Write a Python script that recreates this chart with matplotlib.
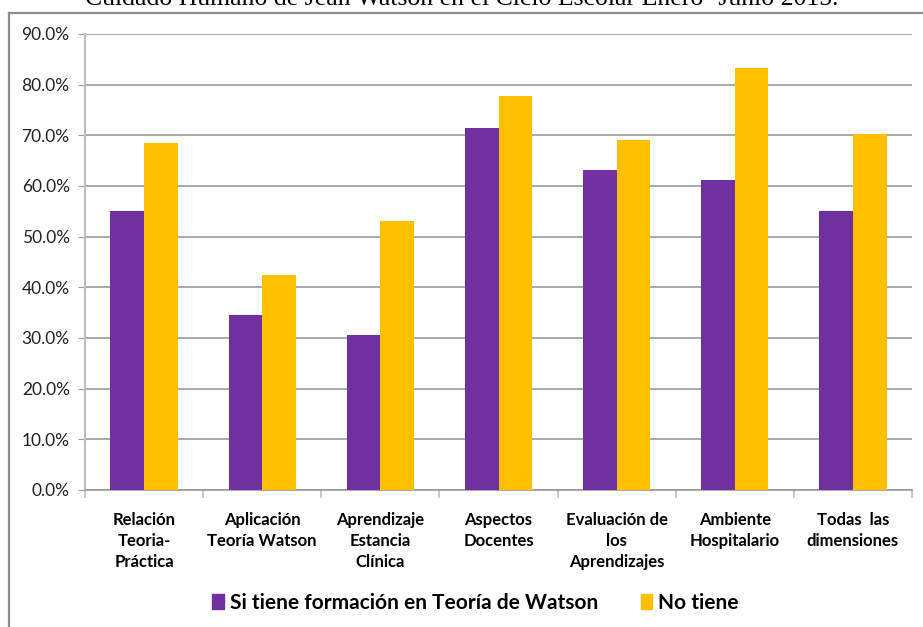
import matplotlib
matplotlib.use("Agg")
import matplotlib.pyplot as plt
from matplotlib.lines import Line2D
from matplotlib.patches import Patch
import numpy as np

categories = ["Relación\nTeoria-\nPráctica", "Aplicación\nTeoría Watson",
              "Aprendizaje\nEstancia\nClínica", "Aspectos\nDocentes",
              "Evaluación de\nlos\nAprendizajes", "Ambiente\nHospitalario",
              "Todas  las\ndimensiones"]
si_tiene = [55.1, 34.6, 30.5, 71.4, 63.2, 61.1, 55.1]
no_tiene = [68.5, 42.4, 53.1, 77.8, 69.1, 83.3, 70.3]
series_names = ["Si tiene formación en Teoría de Watson", "No tiene"]
yticks = [0, 10, 20, 30, 40, 50, 60, 70, 80, 90]
title = "Cuidado Humano de Jean Watson en el Ciclo Escolar Enero- Junio 2015."

purple = "#7030A0"
yellow = "#FFC000"
sans = ["Lato", "DejaVu Sans"]

W, H = 923, 627
fig = plt.figure(figsize=(W / 100, H / 100), dpi=100)

# border (top and left visible)
fig.add_artist(Line2D([9 / W, 9 / W], [0, 1 - 13 / H], transform=fig.transFigure,
                      color="#8c8c8c", lw=1.6))
fig.add_artist(Line2D([9 / W, 1], [1 - 13 / H, 1 - 13 / H], transform=fig.transFigure,
                      color="#8c8c8c", lw=1.6))

# title, partly cut off at the top as in the reference
fig.text(0.5, 1 - 5 / H, title, ha="center", va="baseline",
         family=["Liberation Serif"], fontsize=18.5, color="black")

left, right, top, bottom = 85, 912, 34, 490
ax = fig.add_axes([left / W, 1 - bottom / H, (right - left) / W, (bottom - top) / H])

x = np.arange(len(categories))
bw = 0.285
ax.bar(x - bw / 2, si_tiene, width=bw, color=purple, zorder=3)
ax.bar(x + bw / 2, no_tiene, width=bw, color=yellow, zorder=3)

ax.set_xlim(-0.5, len(categories) - 0.5)
ax.set_ylim(0, 90)
ax.set_yticks(yticks)
ax.set_yticklabels([f"{v:.1f}%" for v in yticks], family=sans, fontsize=12.5, color="#222222")
ax.yaxis.grid(True, color="#9a9a9a", lw=1.2, zorder=0)
ax.set_axisbelow(True)

for s in ["top", "right"]:
    ax.spines[s].set_visible(False)
ax.spines["left"].set_color("#bdbdbd")
ax.spines["left"].set_linewidth(1.5)
ax.spines["bottom"].set_color("#9a9a9a")
ax.spines["bottom"].set_linewidth(1.2)
ax.tick_params(axis="y", length=5, color="#9a9a9a", pad=6)

# category boundary ticks, labels as minor
ax.set_xticks(np.arange(len(categories) + 1) - 0.5)
ax.set_xticklabels([])
ax.tick_params(axis="x", which="major", length=6, color="#bdbdbd", width=1.2)
ax.set_xticks(x, minor=True)
ax.set_xticklabels(categories, minor=True, family=sans, fontsize=12,
                   fontweight="bold", linespacing=1.38, va="top")
ax.tick_params(axis="x", which="minor", length=0, pad=16)

handles = [Patch(color=purple), Patch(color=yellow)]
fig.legend(handles, series_names, loc="center", bbox_to_anchor=(0.5152, 1 - 603 / H),
           ncol=2, frameon=False, prop={"family": sans, "weight": "bold", "size": 15},
           handlelength=0.55, handleheight=0.75, handletextpad=0.3, columnspacing=2.05)

fig.savefig("out.png", dpi=100)
